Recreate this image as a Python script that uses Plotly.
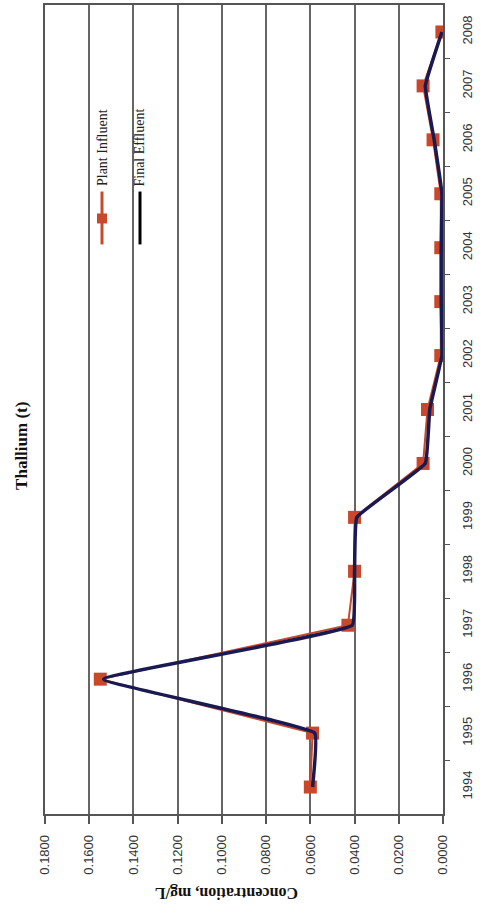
import plotly.graph_objects as go

years = [1994, 1995, 1996, 1997, 1998, 1999, 2000, 2001, 2002, 2003, 2004, 2005, 2006, 2007, 2008]
plant_influent = [0.060, 0.059, 0.155, 0.043, 0.040, 0.040, 0.009, 0.007, 0.001, 0.001, 0.001, 0.001, 0.0045, 0.009, 0.0005]
final_effluent = [0.059, 0.058, 0.1535, 0.041, 0.040, 0.039, 0.008, 0.006, 0.0005, 0.0008, 0.0008, 0.0005, 0.004, 0.008, 0.0005]
conc_ticks = [0.0, 0.02, 0.04, 0.06, 0.08, 0.10, 0.12, 0.14, 0.16, 0.18]

W, H = 482, 907
L, R, T, B = 45, 39, 3, 93
PW, PH = W - L - R, H - T - B

def px(x):
    return (x - L) / PW

def py(y):
    return (H - B - y) / PH

RED = "#c9482c"
NAVY = "#1a1a52"

fig = go.Figure()
fig.add_trace(go.Scatter(
    x=plant_influent, y=years, mode="lines+markers", name="Plant Influent",
    line=dict(color=RED, width=2),
    marker=dict(symbol="square", size=13, color=RED),
    showlegend=False,
))
fig.add_trace(go.Scatter(
    x=final_effluent, y=years, mode="lines", name="Final Effluent",
    line=dict(color=NAVY, width=3.5, shape="spline", smoothing=0.25),
    showlegend=False,
))

fig.update_layout(
    width=W, height=H,
    margin=dict(l=L, r=R, t=T, b=B),
    paper_bgcolor="white", plot_bgcolor="white",
    font=dict(family="Liberation Sans", color="#222"),
)
fig.update_xaxes(
    range=[0.18, 0.0], tickvals=conc_ticks,
    ticktext=[f"{v:.4f}" for v in conc_ticks],
    tickangle=-90, tickfont=dict(size=13, family="Liberation Sans", color="#333"),
    ticks="outside", ticklen=8, tickcolor="#555", tickwidth=1.5,
    ticklabelstandoff=6,
    showgrid=True, gridcolor="#666666", gridwidth=1.6,
    showline=True, linecolor="#555", linewidth=1.5, mirror=True,
    zeroline=False,
)
fig.update_yaxes(
    range=[1993.5, 2008.5], tickvals=years, ticktext=[str(y) for y in years],
    side="right", tickangle=-90,
    tickfont=dict(size=13, family="Liberation Sans", color="#333"),
    ticks="", showgrid=False, zeroline=False, ticklabelstandoff=12,
    showline=True, linecolor="#555", linewidth=1.5, mirror=True,
    minor=dict(ticks="outside", tickvals=[y + 0.5 for y in years[:-1]],
               ticklen=5, tickcolor="#555", tickwidth=1.2, showgrid=False),
)

# legend drawn manually (rotated)
fig.add_shape(type="rect", xref="paper", yref="paper",
              x0=px(55), x1=px(160), y0=py(303), y1=py(23),
              fillcolor="white", line=dict(width=0), layer="between")
fig.add_shape(type="line", xref="paper", yref="paper",
              x0=px(102), x1=px(102), y0=py(243), y1=py(190),
              line=dict(color=RED, width=3))
fig.add_shape(type="rect", xref="paper", yref="paper",
              x0=px(97), x1=px(107), y0=py(222), y1=py(212),
              fillcolor=RED, line=dict(width=0))
fig.add_shape(type="line", xref="paper", yref="paper",
              x0=px(140), x1=px(140), y0=py(243), y1=py(190),
              line=dict(color="black", width=3))
fig.add_annotation(text="Plant Influent", xref="paper", yref="paper",
                   x=px(102), y=py(187), xanchor="center", yanchor="bottom",
                   textangle=-90, showarrow=False,
                   font=dict(family="Liberation Serif", size=14, color="#222"))
fig.add_annotation(text="Final Effluent", xref="paper", yref="paper",
                   x=px(140), y=py(187), xanchor="center", yanchor="bottom",
                   textangle=-90, showarrow=False,
                   font=dict(family="Liberation Serif", size=14, color="#222"))

# title and axis title (rotated)
fig.add_annotation(text="<b>Thallium (t)</b>", xref="paper", yref="paper",
                   x=px(22), y=py(445), xanchor="center", yanchor="middle",
                   textangle=-90, showarrow=False,
                   font=dict(family="Liberation Serif", size=17, color="#111"))
fig.add_annotation(text="<b>Concentration, mg/L</b>", xref="paper", yref="paper",
                   x=px(227), y=py(893), xanchor="center", yanchor="middle",
                   textangle=180, showarrow=False,
                   font=dict(family="Liberation Serif", size=16, color="#111"))

fig.write_html("out.html", config={"displayModeBar": False},
               post_script="document.body.style.margin='0px';document.body.style.overflow='hidden';")
